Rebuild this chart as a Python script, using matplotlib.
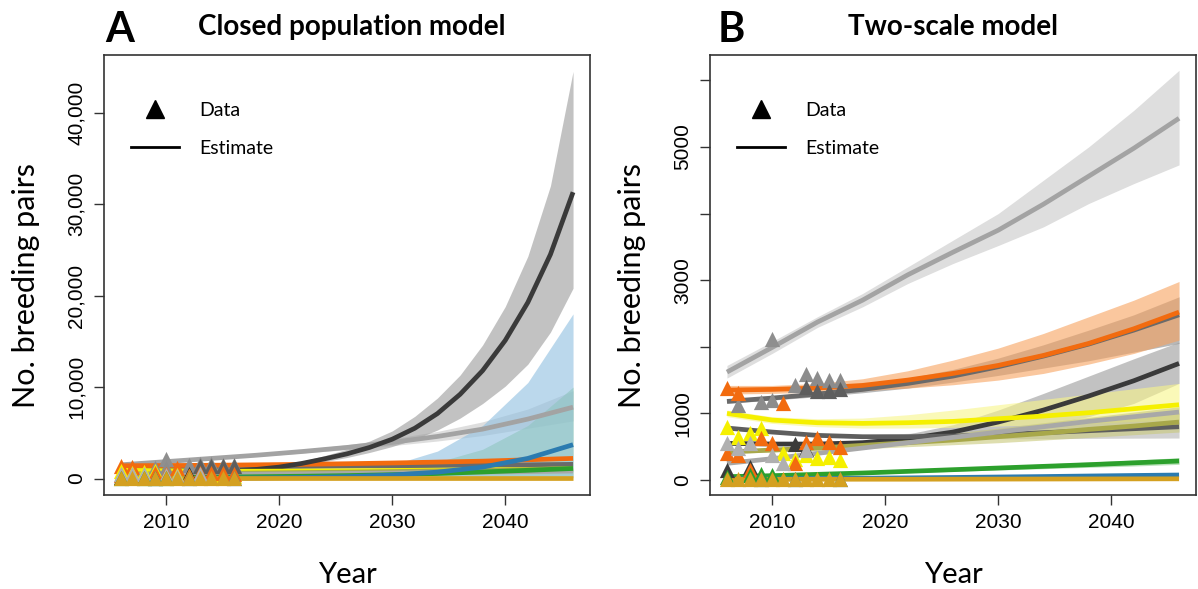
import numpy as np
import matplotlib.pyplot as plt
from matplotlib.lines import Line2D

nan = np.nan

# observation years (counts) and projection years (estimates)
obs_years = [2006, 2007, 2008, 2009, 2010, 2011, 2012, 2013, 2014, 2015, 2016]
proj_years = [2006, 2010, 2014, 2018, 2022, 2026, 2030, 2034, 2038, 2042, 2046]
fine_years = [2006, 2008, 2010, 2012, 2014, 2016, 2018, 2020, 2022, 2024, 2026,
              2028, 2030, 2032, 2034, 2036, 2038, 2040, 2042, 2044, 2046]

colonies = ["big", "dark", "orange", "black", "dark2", "yellow", "olive",
            "silver", "green", "blue", "gold"]

# observed counts per colony
counts = {
    "big":    [nan, nan, nan, nan, 2120, nan, nan, nan, nan, nan, nan],
    "dark":   [nan, 1125, nan, 1175, 1200, nan, 1430, 1590, 1535, 1500, 1500],
    "orange": [1380, 1300, nan, nan, nan, 1150, nan, nan, nan, nan, nan],
    "black":  [150, nan, 200, nan, nan, nan, 540, 470, nan, nan, nan],
    "dark2":  [nan, nan, nan, nan, nan, nan, nan, 1400, 1330, 1340, 1365],
    "yellow": [800, 650, 700, 780, nan, 400, 315, 370, 330, 350, 300],
    "olive":  [400, 370, 150, 630, 550, nan, 250, 575, 630, 575, 500],
    "silver": [550, 480, 550, nan, 375, 250, nan, 450, nan, nan, nan],
    "green":  [40, nan, 80, 90, 70, nan, nan, nan, nan, nan, nan],
    "blue":   [nan, nan, nan, 20, nan, nan, 20, nan, nan, nan, 20],
    "gold":   [20, 20, 20, 20, 20, 20, 20, 20, 20, 20, 20],
}

# closed population model: estimate and interval
closed_mean = {
    "big":    [1500, 1850, 2200, 2550, 2950, 3400, 3950, 4600, 5400, 6500, 7800],
    "dark":   [1200, 1230, 1260, 1290, 1320, 1350, 1380, 1420, 1460, 1500, 1550],
    "orange": [1400, 1420, 1450, 1500, 1550, 1620, 1700, 1800, 1900, 2050, 2200],
    "black":  [800, 750, 720, 730, 760, 850, 1000, 1250, 1650, 2150, 2700,
               3400, 4300, 5500, 7100, 9200, 11800, 15100, 19250, 24500, 31300],
    "dark2":  [750, 730, 720, 720, 730, 750, 780, 820, 860, 910, 970],
    "yellow": [900, 850, 800, 800, 820, 850, 880, 920, 960, 1000, 1050],
    "olive":  [500, 520, 550, 600, 650, 700, 760, 830, 900, 980, 1060],
    "silver": [400, 420, 450, 480, 520, 560, 600, 650, 700, 760, 820],
    "green":  [100, 120, 150, 200, 250, 320, 420, 550, 720, 900, 1100],
    "blue":   [20, 25, 35, 60, 110, 200, 380, 700, 1250, 2200, 3700],
    "gold":   [20, 20, 20, 20, 20, 20, 20, 20, 20, 20, 20],
}
closed_lo = {
    "big":   [1450, 1780, 2100, 2420, 2780, 3150, 3600, 4100, 4700, 5500, 6300],
    "black": [740, 700, 670, 680, 700, 780, 910, 1120, 1440, 1850, 2300,
              2850, 3500, 4300, 5300, 6600, 8200, 10100, 12500, 16000, 20800],
    "blue":  [15, 18, 20, 25, 30, 40, 50, 60, 70, 80, 90],
    "green": [80, 100, 120, 150, 180, 200, 220, 250, 280, 300, 330],
}
closed_hi = {
    "big":   [1550, 1920, 2300, 2700, 3150, 3700, 4350, 5150, 6200, 7600, 9600],
    "black": [860, 800, 770, 780, 820, 920, 1100, 1400, 1900, 2500, 3200,
              4100, 5200, 6800, 8800, 11300, 14600, 18800, 24300, 32000, 44500],
    "blue":  [25, 35, 60, 130, 300, 700, 1500, 3000, 5800, 10500, 18000],
    "green": [120, 150, 200, 280, 380, 600, 1000, 1800, 3200, 5800, 10000],
}
closed_years = {"black": fine_years}

# two-scale model: estimate and interval
two_mean = {
    "big":    [1620, 1990, 2370, 2700, 3080, 3420, 3750, 4140, 4560, 4980, 5430],
    "dark":   [1180, 1230, 1290, 1360, 1450, 1560, 1700, 1860, 2040, 2250, 2480],
    "orange": [1350, 1360, 1380, 1420, 1500, 1600, 1720, 1870, 2050, 2270, 2520],
    "black":  [550, 540, 540, 560, 620, 720, 870, 1050, 1260, 1490, 1750],
    "dark2":  [780, 720, 670, 650, 650, 660, 680, 710, 740, 770, 800],
    "yellow": [1000, 900, 860, 850, 860, 880, 920, 960, 1010, 1070, 1130],
    "olive":  [420, 450, 480, 520, 560, 600, 650, 700, 760, 810, 870],
    "silver": [250, 320, 400, 480, 560, 640, 720, 800, 880, 950, 1020],
    "green":  [50, 65, 85, 105, 130, 155, 180, 205, 230, 258, 285],
    "blue":   [15, 18, 22, 27, 32, 38, 45, 52, 60, 68, 75],
    "gold":   [10, 10, 11, 12, 12, 13, 14, 15, 16, 17, 18],
}
two_lo = {
    "big":    [1530, 1900, 2290, 2600, 2950, 3250, 3520, 3800, 4150, 4450, 4730],
    "dark":   [1150, 1200, 1250, 1310, 1380, 1470, 1570, 1680, 1790, 1920, 2050],
    "orange": [1290, 1300, 1320, 1340, 1380, 1430, 1500, 1600, 1740, 1900, 2100],
    "black":  [530, 520, 520, 530, 570, 640, 720, 820, 950, 1150, 1450],
    "dark2":  [760, 700, 650, 630, 620, 620, 620, 620, 625, 628, 630],
    "yellow": [950, 850, 800, 780, 780, 790, 810, 830, 850, 880, 900],
    "olive":  [400, 420, 440, 470, 500, 530, 560, 600, 640, 680, 720],
    "green":  [40, 55, 72, 90, 110, 130, 150, 170, 190, 210, 235],
}
two_hi = {
    "big":    [1720, 2080, 2450, 2800, 3200, 3600, 4000, 4500, 5000, 5550, 6150],
    "dark":   [1210, 1260, 1330, 1420, 1530, 1660, 1830, 2030, 2250, 2480, 2750],
    "orange": [1420, 1420, 1450, 1520, 1640, 1800, 1980, 2200, 2450, 2700, 2980],
    "black":  [570, 560, 570, 600, 690, 830, 1050, 1300, 1560, 1820, 2070],
    "dark2":  [800, 740, 690, 680, 700, 730, 770, 820, 880, 940, 1000],
    "yellow": [1050, 950, 920, 930, 980, 1050, 1130, 1210, 1290, 1370, 1450],
    "olive":  [440, 480, 520, 570, 630, 700, 780, 860, 940, 1020, 1100],
    "green":  [60, 75, 98, 120, 150, 180, 210, 240, 270, 300, 335],
}

line_colors = {
    "big": "#a3a3a3", "dark": "#6a6a6a", "orange": "#f26b0f", "black": "#3a3a3a",
    "dark2": "#5e5e5e", "yellow": "#f5f000", "olive": "#a8a84a", "silver": "#a8a8a8",
    "green": "#2ca02c", "blue": "#2b7bb0", "gold": "#d4a020",
}
band_colors = {
    "big": "#c8c8c8", "dark": "#8a8a8a", "orange": "#f7a25e", "black": "#9a9a9a",
    "dark2": "#b5b5b5", "yellow": "#f8f58a", "olive": "#c8c87a",
    "green": "#90d090", "blue": "#8fbfe0",
}
point_colors = {
    "big": "#8f8f8f", "dark": "#8c8c8c", "orange": "#f26b0f", "black": "#3a3a3a",
    "dark2": "#5e5e5e", "yellow": "#f5f000", "olive": "#f26b0f", "silver": "#b0b0b0",
    "green": "#2ca02c", "blue": "#2b7bb0", "gold": "#d4a020",
}

TICK_FONT = "Liberation Sans"
LABEL_FONT = "Lato"


def draw_panel(ax, means, lows, highs, years_for):
    for name in colonies:
        if name in lows:
            ax.fill_between(years_for.get(name, proj_years), lows[name], highs[name],
                            color=band_colors[name], alpha=0.6, lw=0)
    for name in colonies:
        ax.plot(years_for.get(name, proj_years), means[name],
                color=line_colors[name], lw=3.4, solid_capstyle="butt")
    for name in colonies:
        ax.scatter(obs_years, counts[name], marker="^", s=120,
                   color=point_colors[name], lw=0, zorder=5)

    ax.set_xlim(2004.5, 2047.5)
    ax.set_xticks([2010, 2020, 2030, 2040])
    ax.tick_params(direction="out", length=7, width=1, labelsize=15, pad=6,
                   color="#333333")
    ax.tick_params(axis="y", labelrotation=90)
    for label in ax.get_xticklabels() + ax.get_yticklabels():
        label.set_family(TICK_FONT)
    for spine in ax.spines.values():
        spine.set_color("#333333")
        spine.set_linewidth(1.2)

    handles = [
        Line2D([], [], color="black", marker="^", markersize=13, lw=0),
        Line2D([], [], color="black", lw=2),
    ]
    ax.legend(handles, ["Data", "Estimate"], loc="upper left",
              bbox_to_anchor=(0.035, 0.915), frameon=False, borderpad=0,
              handlelength=2.5, handletextpad=1.0, labelspacing=1.05,
              prop={"family": LABEL_FONT, "size": 14})


fig = plt.figure(figsize=(11.98, 5.89), dpi=100)
ax_a = fig.add_axes([104 / 1198, 1 - 495 / 589, 486 / 1198, 440 / 589])
ax_b = fig.add_axes([710 / 1198, 1 - 495 / 589, 486 / 1198, 440 / 589])

draw_panel(ax_a, closed_mean, closed_lo, closed_hi, closed_years)
ax_a.set_ylim(-1800, 46300)
ax_a.set_yticks([0, 10000, 20000, 30000, 40000])
ax_a.set_yticklabels(["0", "10,000", "20,000", "30,000", "40,000"],
                     family=TICK_FONT, va="center")

draw_panel(ax_b, two_mean, two_lo, two_hi, {})
ax_b.set_ylim(-225, 6380)
ax_b.set_yticks([0, 1000, 2000, 3000, 4000, 5000, 6000])
ax_b.set_yticklabels(["0", "1000", "", "3000", "", "5000", ""],
                     family=TICK_FONT, va="center")

# panel letters and titles
for x_letter, letter, x_title, title in [(120, "A", 352, "Closed population model"),
                                         (731, "B", 953, "Two-scale model")]:
    fig.text(x_letter / 1198, 1 - 42 / 589, letter, fontsize=30, fontweight="bold",
             family=LABEL_FONT, ha="center", va="baseline")
    fig.text(x_title / 1198, 1 - 35 / 589, title, fontsize=20, fontweight="bold",
             family=LABEL_FONT, ha="center", va="baseline")

# axis labels
for x_ylab, x_year in [(35, 347), (641, 953)]:
    fig.text(x_ylab / 1198, 1 - 286 / 589, "No. breeding pairs", fontsize=22,
             family=LABEL_FONT, rotation=90, rotation_mode="anchor",
             ha="center", va="baseline")
    fig.text(x_year / 1198, 1 - 583 / 589, "Year", fontsize=21,
             family=LABEL_FONT, ha="center", va="baseline")

fig.savefig("out.png", dpi=100)
